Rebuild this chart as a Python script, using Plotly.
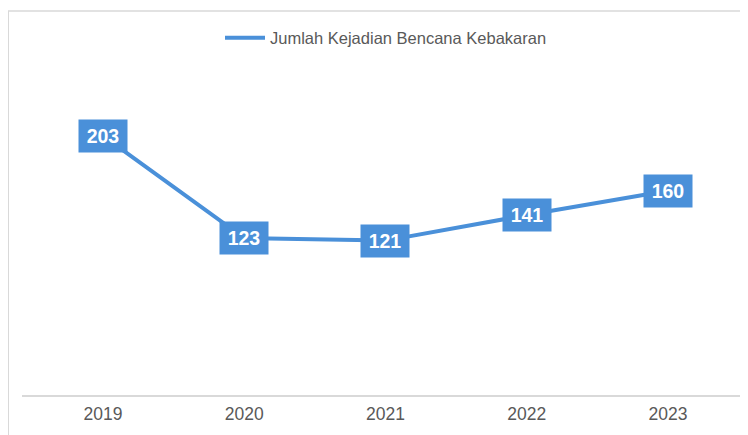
import plotly.graph_objects as go

years = ["2019", "2020", "2021", "2022", "2023"]
values = [203, 123, 121, 141, 160]
series_name = "Jumlah Kejadian Bencana Kebakaran"

blue = "#4A90D9"
xi = list(range(len(years)))

fig = go.Figure()
fig.add_trace(go.Scatter(
    x=xi, y=values, mode="lines", name=series_name,
    line=dict(color=blue, width=4),
))

for i, v in zip(xi, values):
    fig.add_annotation(
        x=i, y=v, text=f"<b>{v}</b>", showarrow=False,
        font=dict(family="Liberation Sans, Arial", size=19.5, color="white"),
        bgcolor=blue, borderpad=5, xanchor="center", yanchor="middle",
        width=38,
    )

# page body has an 8px margin; layout values below are in figure coordinates
OFF = 8
W, H = 748, 435
ml, mr, mt, mb = 22 - OFF, OFF, 76 - OFF, 40 + OFF
pw, ph = W - ml - mr, H - mt - mb

def px_x(p):
    return (p - OFF - ml) / pw

def px_y(p):
    return (H - mb - (p - OFF)) / ph

fig.add_shape(type="line", xref="paper", yref="paper",
              x0=px_x(8), x1=px_x(8), y0=px_y(11), y1=px_y(450),
              line=dict(color="#d9d9d9", width=2))
fig.add_shape(type="line", xref="paper", yref="paper",
              x0=px_x(8), x1=px_x(770), y0=px_y(11), y1=px_y(11),
              line=dict(color="#d9d9d9", width=1.5))

fig.update_layout(
    width=W, height=H,
    margin=dict(l=ml, r=mr, t=mt, b=mb),
    paper_bgcolor="white", plot_bgcolor="white",
    showlegend=True,
    legend=dict(orientation="h", x=px_x(386), xanchor="center",
                y=px_y(38), yanchor="middle",
                font=dict(family="Liberation Sans, Arial", size=16.5, color="#595959"),
                itemwidth=40),
    xaxis=dict(
        tickmode="array", tickvals=xi, ticktext=years,
        range=[-0.574, 4.567], showgrid=False, zeroline=False,
        showline=True, linecolor="#d9d9d9", linewidth=1.5,
        ticks="", ticklabelstandoff=2,
        tickfont=dict(family="Liberation Sans, Arial", size=17.5, color="#595959"),
    ),
    yaxis=dict(range=[0, 250], visible=False, showgrid=False, zeroline=False),
)

fig.write_html("out.html")
